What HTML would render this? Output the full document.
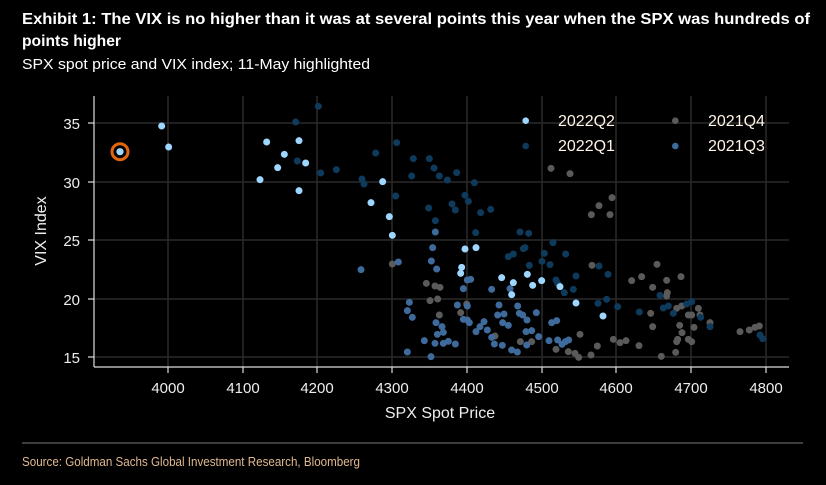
<!DOCTYPE html>
<html><head><meta charset="utf-8"><style>
html,body{margin:0;padding:0;background:#000;}
svg{display:block}
</style></head><body>
<svg id="s" width="826" height="485" xmlns="http://www.w3.org/2000/svg" style="background:#000">
<text x="22" y="24" fill="#fff" font-family="Liberation Sans Narrow, Liberation Sans, sans-serif" font-weight="bold" font-size="16" textLength="788" lengthAdjust="spacingAndGlyphs">Exhibit 1: The VIX is no higher than it was at several points this year when the SPX was hundreds of</text>
<text x="22" y="46" fill="#fff" font-family="Liberation Sans Narrow, Liberation Sans, sans-serif" font-weight="bold" font-size="16" textLength="99" lengthAdjust="spacingAndGlyphs">points higher</text>
<text x="22" y="69" fill="#fff" font-family="Liberation Sans Narrow, Liberation Sans, sans-serif" font-size="15" textLength="348" lengthAdjust="spacingAndGlyphs">SPX spot price and VIX index; 11-May highlighted</text>
<g stroke="#2a2a2a" stroke-width="1.5">
<line x1="94" y1="123" x2="789" y2="123"/><line x1="94" y1="182" x2="789" y2="182"/><line x1="94" y1="240" x2="789" y2="240"/><line x1="94" y1="299" x2="789" y2="299"/><line x1="94" y1="357" x2="789" y2="357"/>
<line x1="168" y1="96" x2="168" y2="367"/><line x1="243" y1="96" x2="243" y2="367"/><line x1="317" y1="96" x2="317" y2="367"/><line x1="392" y1="96" x2="392" y2="367"/><line x1="467" y1="96" x2="467" y2="367"/><line x1="542" y1="96" x2="542" y2="367"/><line x1="616" y1="96" x2="616" y2="367"/><line x1="691" y1="96" x2="691" y2="367"/><line x1="766" y1="96" x2="766" y2="367"/>
</g>
<g stroke="#ddd" stroke-width="1.2">
<line x1="94" y1="96" x2="94" y2="367"/><line x1="94" y1="367" x2="789" y2="367"/>
<line x1="88" y1="123" x2="94" y2="123"/><line x1="88" y1="182" x2="94" y2="182"/><line x1="88" y1="240" x2="94" y2="240"/><line x1="88" y1="299" x2="94" y2="299"/><line x1="88" y1="357" x2="94" y2="357"/>
<line x1="168" y1="367" x2="168" y2="373"/><line x1="243" y1="367" x2="243" y2="373"/><line x1="317" y1="367" x2="317" y2="373"/><line x1="392" y1="367" x2="392" y2="373"/><line x1="467" y1="367" x2="467" y2="373"/><line x1="542" y1="367" x2="542" y2="373"/><line x1="616" y1="367" x2="616" y2="373"/><line x1="691" y1="367" x2="691" y2="373"/><line x1="766" y1="367" x2="766" y2="373"/>
</g>
<g fill="#eee" font-family="Liberation Sans, sans-serif" font-size="15" text-anchor="end">
<text x="80" y="129">35</text><text x="80" y="188">30</text><text x="80" y="246">25</text><text x="80" y="305">20</text><text x="80" y="363">15</text>
</g>
<g fill="#eee" font-family="Liberation Sans, sans-serif" font-size="15" text-anchor="middle">
<text x="168" y="393">4000</text><text x="243" y="393">4100</text><text x="317" y="393">4200</text><text x="392" y="393">4300</text><text x="467" y="393">4400</text><text x="542" y="393">4500</text><text x="616" y="393">4600</text><text x="691" y="393">4700</text><text x="766" y="393">4800</text>
<text x="440" y="418" font-size="16">SPX Spot Price</text>
<text x="0" y="0" font-size="16" transform="translate(46,231) rotate(-90)">VIX Index</text>
</g>
<g font-family="Liberation Sans, sans-serif" font-size="16" fill="#fff4e6">
<circle cx="525.7" cy="120.7" r="3.3" fill="#9dd6ff"/><text x="558" y="126">2022Q2</text>
<circle cx="525.7" cy="146" r="3.3" fill="#0e3a5c"/><text x="558" y="151">2022Q1</text>
<circle cx="675.3" cy="120.7" r="3.3" fill="#5a5a5a"/><text x="708" y="126">2021Q4</text>
<circle cx="675.3" cy="146" r="3.3" fill="#3f6a9c"/><text x="708" y="151">2021Q3</text>
</g>
<g id="pts"></g>
<circle cx="120" cy="151.7" r="8" fill="none" stroke="#e0670f" stroke-width="3"/>
<circle cx="120" cy="151.7" r="3.6" fill="#9dd6ff"/>
<line x1="22" y1="443" x2="803" y2="443" stroke="#777" stroke-width="1"/>
<text x="22" y="466" fill="#e0b890" font-family="Liberation Sans Narrow, Liberation Sans, sans-serif" font-size="13" textLength="338" lengthAdjust="spacingAndGlyphs">Source: Goldman Sachs Global Investment Research, Bloomberg</text>
</svg>
<script>
var g=document.getElementById('pts'),NS='http://www.w3.org/2000/svg';
function add(arr,col,ox,oy){for(var i=0;i<arr.length;i+=2){var c=document.createElementNS(NS,'circle');c.setAttribute('cx',ox+arr[i]/3);c.setAttribute('cy',oy+arr[i+1]/3);c.setAttribute('r',3.5);c.setAttribute('fill',col);g.appendChild(c);}}
var Q4=[513,205,570,221,634,344,657,317,696,293,690,344,37,492,139,550,165,558,180,562,150,602,173,597,178,645,242,638,260,612,345,708,421,725,455,725,528,748,565,755,585,760,596,772,600,703,633,765,652,738,700,718,720,728,738,722,777,737,636,496,755,542,785,530,831,493,860,541,818,562,862,578,860,588,903,530,812,640,818,680,890,625,905,618,925,645,935,645,942,682,955,625,960,645,899,676,906,698,893,718,890,725,925,718,935,725,887,757,844,769,990,668,1080,695,1108,690,1125,682,1138,678];
var Q3=[55,486,158,443,166,396,154,483,170,507,88,607,82,632,97,652,168,668,186,680,190,697,172,703,133,722,165,730,190,730,205,724,226,732,82,756,153,770,232,615,262,540,272,538,250,566,262,618,250,658,262,660,268,668,288,695,300,680,312,665,322,690,335,712,343,732,367,736,335,568,357,615,353,645,372,642,368,668,385,676,390,566,413,618,418,640,428,645,441,660,469,638,395,750,412,756,438,695,455,692,440,735,476,710,507,722,515,668,530,662,533,720,546,733,556,725,566,720];
var Q1=[50,128,100,176,148,176,162,204,95,228,178,228,202,240,230,218,283,248,47,288,255,286,265,304,216,312,226,330,302,338,332,328,146,324,166,362,287,398,420,396,446,400,430,446,435,443,385,470,400,462,493,460,519,428,557,462,486,484,510,494,448,496,588,528,528,540,533,550,580,568,553,578,657,498,684,523,654,610,680,598,713,620,778,636,840,586,850,624,865,618,880,640,920,612,935,605,962,652,990,680,1140,705,1148,716];
var Q2=[8,245,28,350,37,406,255,447,288,443,245,502,242,520,365,533,400,548,395,584,442,523,458,556,485,542,540,560,588,609,669,648];
var Z1Q1=[715,49,647,96,652,213,722,249,769,239,846,267,852,282,887,189];
var Z1Q2=[245,108,266,171,560,156,657,152,613,193,593,233,677,219,540,269,657,302,873,338];
add(Q4,'#5a5a5a',380,100);add(Q3,'#3f6a9c',380,100);add([843,539],'#3f6a9c',80,90);
add(Q1,'#0e3a5c',380,100);add(Z1Q1,'#0e3a5c',80,90);
add(Q2,'#9dd6ff',380,100);add(Z1Q2,'#9dd6ff',80,90);
</script>
</body></html>
